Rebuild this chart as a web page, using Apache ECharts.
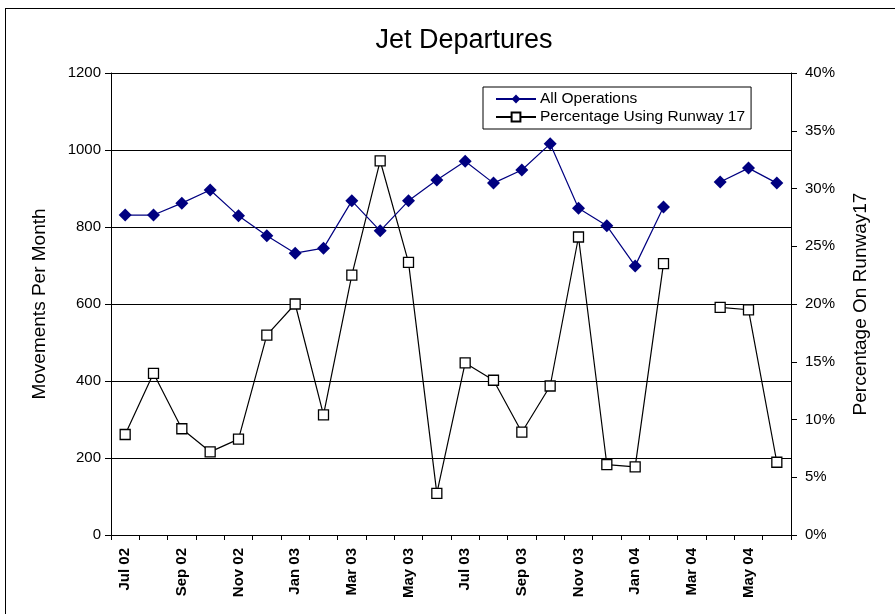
<!DOCTYPE html>
<html>
<head>
<meta charset="utf-8">
<script src="https://cdn.jsdelivr.net/npm/echarts@6/dist/echarts.min.js"></script>
<style>
  html, body { margin: 0; padding: 0; background: #fff; }
  #frame { position: absolute; left: 5px; top: 8px; width: 900px; height: 620px; border: 1px solid #000; box-sizing: border-box; }
  #chart { width: 895px; height: 614px; position: absolute; left: 0; top: 0; }
</style>
</head>
<body>
<div id="frame"></div>
<div id="chart"></div>
<script>
// Monthly jet departures, Jul 2002 - Jun 2004
const months = ['Jul 02','Aug 02','Sep 02','Oct 02','Nov 02','Dec 02',
                'Jan 03','Feb 03','Mar 03','Apr 03','May 03','Jun 03',
                'Jul 03','Aug 03','Sep 03','Oct 03','Nov 03','Dec 03',
                'Jan 04','Feb 04','Mar 04','Apr 04','May 04','Jun 04'];

// Total departures per month (no record for Mar 04)
const allOperations = [831, 831, 862, 896, 829, 777,
                       732, 745, 868, 790, 868, 922,
                       971, 914, 948, 1016, 849, 803,
                       699, 852, null, 917, 953, 914];

// Share of departures using runway 17, percent
const runway17Pct = [8.7, 14.0, 9.2, 7.2, 8.3, 17.3,
                     20.0, 10.4, 22.5, 32.4, 23.6, 3.6,
                     14.9, 13.4, 8.9, 12.9, 25.8, 6.1,
                     5.9, 23.5, null, 19.7, 19.5, 6.3];

const leftTicks = { min: 0, max: 1200, interval: 200 };
const rightTicks = { min: 0, max: 40, interval: 5 };

const FONT = '"Liberation Sans", Arial, sans-serif';
const chart = echarts.init(document.getElementById('chart'));

chart.setOption({
  animation: false,
  backgroundColor: 'transparent',
  title: {
    text: 'Jet Departures',
    left: 459, top: 22, textAlign: 'center',
    textStyle: { fontFamily: FONT, fontSize: 27, fontWeight: 'normal', color: '#000' }
  },
  legend: {
    orient: 'vertical',
    left: 483, top: 87,
    padding: [4, 6, 4, 12],
    itemGap: 2,
    itemWidth: 40, itemHeight: 11,
    backgroundColor: '#fff',
    borderColor: '#000', borderWidth: 1,
    textStyle: { fontFamily: FONT, fontSize: 15.5, color: '#000', padding: [0, 0, 0, -1] },
    data: ['All Operations', 'Percentage Using Runway 17']
  },
  grid: { left: 111, right: 104, top: 73, bottom: 79, containLabel: false },
  xAxis: {
    type: 'category',
    data: months,
    boundaryGap: true,
    axisLine: { lineStyle: { color: '#000', width: 1 } },
    axisTick: { show: true, interval: 0, length: 5, lineStyle: { color: '#000' } },
    axisLabel: {
      interval: 1, rotate: 90, margin: 13,
      fontFamily: FONT, fontSize: 15, fontWeight: 'bold', color: '#000'
    },
    splitLine: { show: false }
  },
  yAxis: [
    {
      type: 'value',
      min: leftTicks.min, max: leftTicks.max, interval: leftTicks.interval,
      name: 'Movements Per Month',
      nameLocation: 'middle', nameGap: 62, nameRotate: 90,
      nameTextStyle: { fontFamily: FONT, fontSize: 19, color: '#000' },
      axisLine: { show: true, lineStyle: { color: '#000' } },
      axisTick: { show: true, length: 6, lineStyle: { color: '#000' } },
      axisLabel: { fontFamily: FONT, fontSize: 15, color: '#000', margin: 10,
                   formatter: v => String(v) },
      splitLine: { show: true, lineStyle: { color: '#000', width: 1 } }
    },
    {
      type: 'value',
      position: 'right',
      min: rightTicks.min, max: rightTicks.max, interval: rightTicks.interval,
      name: 'Percentage On Runway17',
      nameLocation: 'middle', nameGap: 60, nameRotate: 90,
      nameTextStyle: { fontFamily: FONT, fontSize: 19, color: '#000' },
      axisLine: { show: true, lineStyle: { color: '#000' } },
      axisTick: { show: true, length: 6, lineStyle: { color: '#000' } },
      axisLabel: { fontFamily: FONT, fontSize: 15, color: '#000', margin: 14, formatter: '{value}%' },
      splitLine: { show: false }
    }
  ],
  series: [
    {
      name: 'All Operations',
      type: 'line',
      yAxisIndex: 0,
      data: allOperations,
      connectNulls: false,
      symbol: 'diamond',
      symbolSize: 13,
      itemStyle: { color: '#000080' },
      lineStyle: { color: '#000080', width: 1.2 },
      z: 3
    },
    {
      name: 'Percentage Using Runway 17',
      type: 'line',
      yAxisIndex: 1,
      data: runway17Pct,
      connectNulls: false,
      symbol: 'rect',
      symbolSize: 10,
      itemStyle: { color: '#fff', borderColor: '#000', borderWidth: 1.3 },
      lineStyle: { color: '#000', width: 1.2 },
      z: 2
    }
  ]
});
</script>
</body>
</html>
